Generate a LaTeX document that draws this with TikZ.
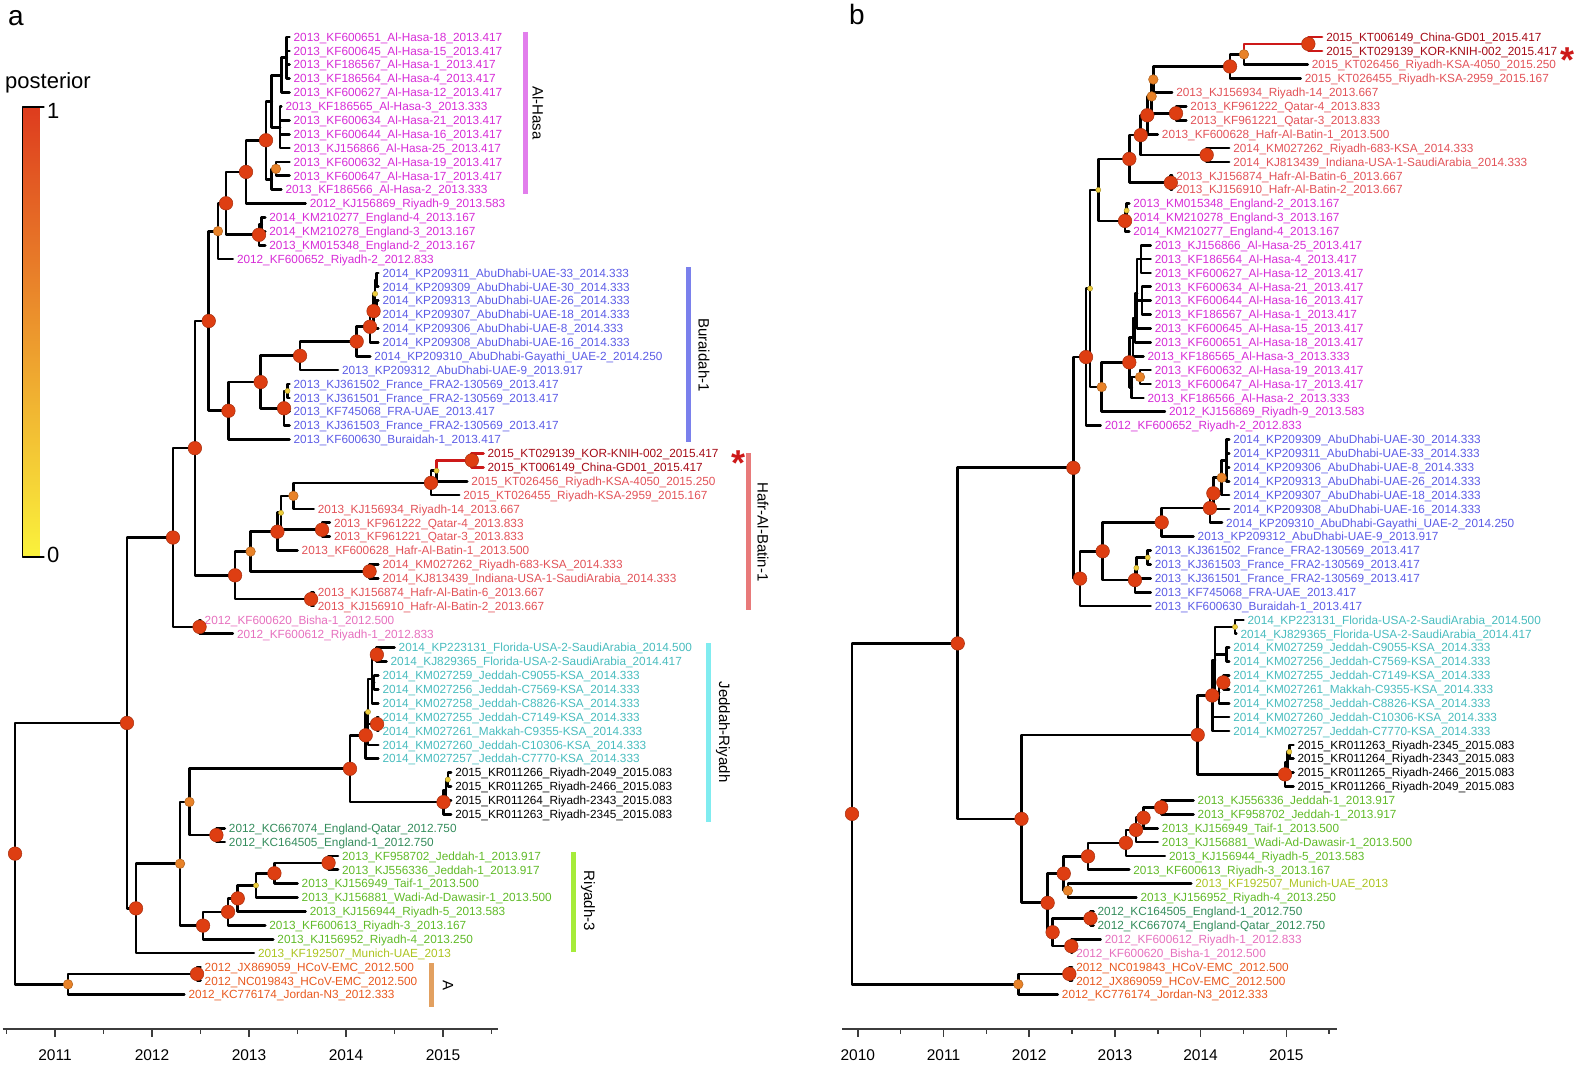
\documentclass[tikz,border=0pt]{standalone}
\usepackage{fontspec}
\setmainfont{Liberation Sans}
\definecolor{cmag}{RGB}{214,44,214}
\definecolor{cblue}{RGB}{92,92,230}
\definecolor{cdred}{RGB}{165,10,22}
\definecolor{csalm}{RGB}{226,82,88}
\definecolor{cpink}{RGB}{230,112,190}
\definecolor{cteal}{RGB}{72,188,190}
\definecolor{cdgrn}{RGB}{52,140,92}
\definecolor{cgrn}{RGB}{96,186,40}
\definecolor{cylg}{RGB}{172,196,32}
\definecolor{corg}{RGB}{232,88,30}
\definecolor{bhasa}{RGB}{226,126,236}
\definecolor{bbur}{RGB}{122,128,236}
\definecolor{bhafr}{RGB}{232,122,122}
\definecolor{bjed}{RGB}{128,236,240}
\definecolor{briy}{RGB}{166,236,58}
\definecolor{bA}{RGB}{226,160,96}
\definecolor{ppred}{RGB}{222,62,18}
\definecolor{pporg}{RGB}{232,130,40}
\definecolor{ppyel}{RGB}{238,206,60}
\definecolor{bred}{RGB}{205,25,25}
\definecolor{cbtop}{RGB}{222,60,30}
\definecolor{cbmid}{RGB}{232,140,40}
\definecolor{cbbot}{RGB}{250,242,60}
\definecolor{axgray}{RGB}{60,60,60}

\begin{document}
\begin{tikzpicture}[x=1pt,y=-1pt,line cap=round,line join=round,
  br/.style={line width=2.7pt,black},
  brred/.style={line width=2.7pt,color=bred},
  lab/.style={anchor=west,inner xsep=4pt,inner ysep=0pt,text height=8.45pt,text depth=0pt,font=\fontsize{11.8}{12}\selectfont},
  lmag/.style={lab,text=cmag},
  lblu/.style={lab,text=cblue},
  ldred/.style={lab,text=cdred},
  lsal/.style={lab,text=csalm},
  lpink/.style={lab,text=cpink},
  lteal/.style={lab,text=cteal},
  lblk/.style={lab,text=black},
  ldgr/.style={lab,text=cdgrn},
  lgrn/.style={lab,text=cgrn},
  lylg/.style={lab,text=cylg},
  lorg/.style={lab,text=corg},
  nred/.style={fill=ppred,draw=ppred!75!black,line width=0.5pt},
  norg/.style={fill=pporg,draw=pporg!75!black,line width=0.5pt},
  nyel/.style={fill=ppyel,draw=ppyel!70!black,line width=0.4pt},
  clade/.style={line width=5pt,line cap=butt},
  cladelab/.style={rotate=-90,font=\fontsize{15}{16}\selectfont},
  yrlab/.style={font=\fontsize{15.5}{16}\selectfont},
  axis/.style={line width=1.6pt,axgray,line cap=butt},
  plab/.style={font=\fontsize{28}{30}\selectfont},
  astk/.style={text=bred,font=\fontsize{36}{36}\selectfont\bfseries,inner sep=0pt}]
\useasboundingbox (0,0) rectangle (1575,1065);

% panel letters
\node[plab] (pa) at (16,18) {a};
\node[plab] (pb) at (857,14) {b};

% posterior scale
\node[font=\fontsize{22}{24}\selectfont] (post) at (48,83) {posterior};
\shade[top color=cbtop,middle color=cbmid,bottom color=cbbot] (22.7,107) rectangle (39.3,557);
\draw[line width=1.2pt] (44,107) -- (22.7,107) -- (22.7,557) -- (44,557);
\node[anchor=west,inner sep=0pt,font=\fontsize{22}{24}\selectfont] (pone) at (47,111) {1};
\node[anchor=west,inner sep=0pt,font=\fontsize{22}{24}\selectfont] (pzero) at (47,555) {0};

% ================= tree a =================
\begin{scope}[x=97pt,xshift=-1012pt,y=-13.88pt,yshift=-23.12pt]
\node[lmag] (a1) at (13.417,1) {2013\_KF600651\_Al-Hasa-18\_2013.417};
\node[lmag] (a2) at (13.417,2) {2013\_KF600645\_Al-Hasa-15\_2013.417};
\node[lmag] (a3) at (13.417,3) {2013\_KF186567\_Al-Hasa-1\_2013.417};
\node[lmag] (a4) at (13.417,4) {2013\_KF186564\_Al-Hasa-4\_2013.417};
\node[lmag] (a5) at (13.417,5) {2013\_KF600627\_Al-Hasa-12\_2013.417};
\node[lmag] (a6) at (13.333,6) {2013\_KF186565\_Al-Hasa-3\_2013.333};
\node[lmag] (a7) at (13.417,7) {2013\_KF600634\_Al-Hasa-21\_2013.417};
\node[lmag] (a8) at (13.417,8) {2013\_KF600644\_Al-Hasa-16\_2013.417};
\node[lmag] (a9) at (13.417,9) {2013\_KJ156866\_Al-Hasa-25\_2013.417};
\node[lmag] (a10) at (13.417,10) {2013\_KF600632\_Al-Hasa-19\_2013.417};
\node[lmag] (a11) at (13.417,11) {2013\_KF600647\_Al-Hasa-17\_2013.417};
\node[lmag] (a12) at (13.333,12) {2013\_KF186566\_Al-Hasa-2\_2013.333};
\node[lmag] (a13) at (13.583,13) {2012\_KJ156869\_Riyadh-9\_2013.583};
\node[lmag] (a14) at (13.167,14) {2014\_KM210277\_England-4\_2013.167};
\node[lmag] (a15) at (13.167,15) {2014\_KM210278\_England-3\_2013.167};
\node[lmag] (a16) at (13.167,16) {2013\_KM015348\_England-2\_2013.167};
\node[lmag] (a17) at (12.833,17) {2012\_KF600652\_Riyadh-2\_2012.833};
\node[lblu] (a18) at (14.333,18) {2014\_KP209311\_AbuDhabi-UAE-33\_2014.333};
\node[lblu] (a19) at (14.333,19) {2014\_KP209309\_AbuDhabi-UAE-30\_2014.333};
\node[lblu] (a20) at (14.333,20) {2014\_KP209313\_AbuDhabi-UAE-26\_2014.333};
\node[lblu] (a21) at (14.333,21) {2014\_KP209307\_AbuDhabi-UAE-18\_2014.333};
\node[lblu] (a22) at (14.333,22) {2014\_KP209306\_AbuDhabi-UAE-8\_2014.333};
\node[lblu] (a23) at (14.333,23) {2014\_KP209308\_AbuDhabi-UAE-16\_2014.333};
\node[lblu] (a24) at (14.25,24) {2014\_KP209310\_AbuDhabi-Gayathi\_UAE-2\_2014.250};
\node[lblu] (a25) at (13.917,25) {2013\_KP209312\_AbuDhabi-UAE-9\_2013.917};
\node[lblu] (a26) at (13.417,26) {2013\_KJ361502\_France\_FRA2-130569\_2013.417};
\node[lblu] (a27) at (13.417,27) {2013\_KJ361501\_France\_FRA2-130569\_2013.417};
\node[lblu] (a28) at (13.417,28) {2013\_KF745068\_FRA-UAE\_2013.417};
\node[lblu] (a29) at (13.417,29) {2013\_KJ361503\_France\_FRA2-130569\_2013.417};
\node[lblu] (a30) at (13.417,30) {2013\_KF600630\_Buraidah-1\_2013.417};
\node[ldred] (a31) at (15.417,31) {2015\_KT029139\_KOR-KNIH-002\_2015.417};
\node[ldred] (a32) at (15.417,32) {2015\_KT006149\_China-GD01\_2015.417};
\node[lsal] (a33) at (15.25,33) {2015\_KT026456\_Riyadh-KSA-4050\_2015.250};
\node[lsal] (a34) at (15.167,34) {2015\_KT026455\_Riyadh-KSA-2959\_2015.167};
\node[lsal] (a35) at (13.667,35) {2013\_KJ156934\_Riyadh-14\_2013.667};
\node[lsal] (a36) at (13.833,36) {2013\_KF961222\_Qatar-4\_2013.833};
\node[lsal] (a37) at (13.833,37) {2013\_KF961221\_Qatar-3\_2013.833};
\node[lsal] (a38) at (13.5,38) {2013\_KF600628\_Hafr-Al-Batin-1\_2013.500};
\node[lsal] (a39) at (14.333,39) {2014\_KM027262\_Riyadh-683-KSA\_2014.333};
\node[lsal] (a40) at (14.333,40) {2014\_KJ813439\_Indiana-USA-1-SaudiArabia\_2014.333};
\node[lsal] (a41) at (13.667,41) {2013\_KJ156874\_Hafr-Al-Batin-6\_2013.667};
\node[lsal] (a42) at (13.667,42) {2013\_KJ156910\_Hafr-Al-Batin-2\_2013.667};
\node[lpink] (a43) at (12.5,43) {2012\_KF600620\_Bisha-1\_2012.500};
\node[lpink] (a44) at (12.833,44) {2012\_KF600612\_Riyadh-1\_2012.833};
\node[lteal] (a45) at (14.5,45) {2014\_KP223131\_Florida-USA-2-SaudiArabia\_2014.500};
\node[lteal] (a46) at (14.417,46) {2014\_KJ829365\_Florida-USA-2-SaudiArabia\_2014.417};
\node[lteal] (a47) at (14.333,47) {2014\_KM027259\_Jeddah-C9055-KSA\_2014.333};
\node[lteal] (a48) at (14.333,48) {2014\_KM027256\_Jeddah-C7569-KSA\_2014.333};
\node[lteal] (a49) at (14.333,49) {2014\_KM027258\_Jeddah-C8826-KSA\_2014.333};
\node[lteal] (a50) at (14.333,50) {2014\_KM027255\_Jeddah-C7149-KSA\_2014.333};
\node[lteal] (a51) at (14.333,51) {2014\_KM027261\_Makkah-C9355-KSA\_2014.333};
\node[lteal] (a52) at (14.333,52) {2014\_KM027260\_Jeddah-C10306-KSA\_2014.333};
\node[lteal] (a53) at (14.333,53) {2014\_KM027257\_Jeddah-C7770-KSA\_2014.333};
\node[lblk] (a54) at (15.083,54) {2015\_KR011266\_Riyadh-2049\_2015.083};
\node[lblk] (a55) at (15.083,55) {2015\_KR011265\_Riyadh-2466\_2015.083};
\node[lblk] (a56) at (15.083,56) {2015\_KR011264\_Riyadh-2343\_2015.083};
\node[lblk] (a57) at (15.083,57) {2015\_KR011263\_Riyadh-2345\_2015.083};
\node[ldgr] (a58) at (12.75,58) {2012\_KC667074\_England-Qatar\_2012.750};
\node[ldgr] (a59) at (12.75,59) {2012\_KC164505\_England-1\_2012.750};
\node[lgrn] (a60) at (13.917,60) {2013\_KF958702\_Jeddah-1\_2013.917};
\node[lgrn] (a61) at (13.917,61) {2013\_KJ556336\_Jeddah-1\_2013.917};
\node[lgrn] (a62) at (13.5,62) {2013\_KJ156949\_Taif-1\_2013.500};
\node[lgrn] (a63) at (13.5,63) {2013\_KJ156881\_Wadi-Ad-Dawasir-1\_2013.500};
\node[lgrn] (a64) at (13.583,64) {2013\_KJ156944\_Riyadh-5\_2013.583};
\node[lgrn] (a65) at (13.167,65) {2013\_KF600613\_Riyadh-3\_2013.167};
\node[lgrn] (a66) at (13.25,66) {2013\_KJ156952\_Riyadh-4\_2013.250};
\node[lylg] (a67) at (13.05,67) {2013\_KF192507\_Munich-UAE\_2013};
\node[lorg] (a68) at (12.5,68) {2012\_JX869059\_HCoV-EMC\_2012.500};
\node[lorg] (a69) at (12.5,69) {2012\_NC019843\_HCoV-EMC\_2012.500};
\node[lorg] (a70) at (12.333,70) {2012\_KC776174\_Jordan-N3\_2012.333};
% internal nodes (x = year-2000, y = leaf row)
\coordinate (aR) at (10.588,59.835);
\coordinate (aL1) at (11.134,69.25);
\coordinate (aL2) at (12.464,68.5);
\coordinate (aU1) at (11.742,50.42);
\coordinate (aU2) at (12.216,37.06);
\coordinate (aH0) at (12.442,30.62);
\coordinate (aQ) at (12.585,21.46);
\coordinate (aA4) at (12.680,14.99);
\coordinate (aA3) at (12.763,12.98);
\coordinate (aA2) at (12.969,10.72);
\coordinate (aA1) at (13.175,8.44);
\coordinate (aN1) at (13.234,5.625);
\coordinate (aG15) at (13.337,3.75);
\coordinate (aG14) at (13.389,2.5);
\coordinate (ah3) at (13.32,7.5);
\coordinate (aN2) at (13.234,11.25);
\coordinate (aA6) at (13.278,10.5);
\coordinate (aA5) at (13.103,15.25);
\coordinate (aA5b) at (13.131,14.5);
\coordinate (aB1) at (12.788,27.93);
\coordinate (aB2) at (13.120,25.86);
\coordinate (aB3) at (13.526,23.97);
\coordinate (aB5) at (14.110,22.94);
\coordinate (aB6) at (14.247,21.875);
\coordinate (aB7) at (14.284,20.75);
\coordinate (aB8) at (14.30,19.5);
\coordinate (aB9) at (14.315,18.5);
\coordinate (aB9b) at (14.315,20.5);
\coordinate (aB4) at (13.361,27.75);
\coordinate (aB10) at (13.397,26.5);
\coordinate (aH1) at (12.856,39.785);
\coordinate (aH2) at (13.016,38.07);
\coordinate (aH3) at (13.293,36.64);
\coordinate (aH4) at (13.330,35.28);
\coordinate (aH5) at (13.458,34.06);
\coordinate (aH6) at (14.876,33.125);
\coordinate (aH7) at (14.933,32.25);
\coordinate (aH8) at (15.297,31.5);
\coordinate (aH9) at (13.753,36.5);
\coordinate (aH10) at (14.243,39.5);
\coordinate (aH11) at (13.64,41.5);
\coordinate (aBS) at (12.49,43.5);
\coordinate (aG1) at (11.835,63.78);
\coordinate (aG2) at (12.289,60.56);
\coordinate (aG3) at (12.386,56.11);
\coordinate (aJR) at (14.041,53.72);
\coordinate (aJ3) at (14.203,51.31);
\coordinate (aJ4) at (14.227,49.625);
\coordinate (aJ6) at (14.268,47.25);
\coordinate (aJ1) at (14.318,45.5);
\coordinate (aJ7) at (14.29,47.5);
\coordinate (aJ2) at (14.32,50.5);
\coordinate (aK1) at (15.005,56.125);
\coordinate (aK3) at (15.03,55.25);
\coordinate (aK2) at (15.05,54.5);
\coordinate (aEQ) at (12.664,58.5);
\coordinate (aR3) at (12.526,65.02);
\coordinate (aS5) at (12.784,64.03);
\coordinate (aS4) at (12.884,63.06);
\coordinate (aS3) at (13.072,62.125);
\coordinate (aS2) at (13.262,61.25);
\coordinate (aS1) at (13.82,60.5);
% branches
\foreach \pn/\cn in {aR/aU1,aR/aL1,aL1/aL2,aL1/a70,aL2/a68,aL2/a69,
  aU1/aU2,aU1/aG1,aU2/aH0,aU2/aBS,aBS/a43,aBS/a44,aH0/aQ,aH0/aH1,
  aQ/aA4,aQ/aB1,aA4/aA3,aA4/a17,aA3/aA2,aA3/aA5,aA5/aA5b,aA5/a16,aA5b/a14,aA5b/a15,
  aA2/aA1,aA2/a13,aA1/aN1,aA1/aN2,aN1/aG15,aN1/ah3,aG15/aG14,aG15/a5,
  aG14/a1,aG14/a2,aG14/a3,aG14/a4,ah3/a6,ah3/a7,ah3/a8,ah3/a9,
  aN2/aA6,aN2/a12,aA6/a10,aA6/a11,
  aB1/aB2,aB1/a30,aB2/aB3,aB2/aB4,aB3/aB5,aB3/a25,aB5/aB6,aB5/a24,aB6/aB7,aB6/a23,
  aB7/aB8,aB7/a22,aB8/aB9,aB8/aB9b,aB9/a18,aB9/a19,aB9b/a20,aB9b/a21,
  aB4/aB10,aB4/a28,aB4/a29,aB10/a26,aB10/a27,
  aH1/aH2,aH1/aH11,aH11/a41,aH11/a42,aH2/aH3,aH2/aH10,aH10/a39,aH10/a40,
  aH3/aH4,aH3/a38,aH4/aH5,aH4/aH9,aH9/a36,aH9/a37,aH5/aH6,aH5/a35,
  aH6/aH7,aH6/a34,aH7/a33,
  aG1/aG2,aG1/a67,aG2/aG3,aG2/aR3,aG3/aJR,aG3/aEQ,aEQ/a58,aEQ/a59,
  aJR/aJ3,aJR/aK1,aJ3/aJ4,aJ3/a53,aJ4/aJ6,aJ4/aJ2,aJ4/a52,
  aJ6/aJ1,aJ6/aJ7,aJ6/a49,aJ1/a45,aJ1/a46,aJ7/a47,aJ7/a48,aJ2/a50,aJ2/a51,
  aK1/aK3,aK1/a57,aK3/aK2,aK3/a56,aK2/a54,aK2/a55,
  aR3/aS5,aR3/a66,aS5/aS4,aS5/a65,aS4/aS3,aS4/a64,aS3/aS2,aS3/a63,
  aS2/aS1,aS2/a62,aS1/a60,aS1/a61}
  \draw[br] (\pn) |- (\cn);
\foreach \pn/\cn in {aH7/aH8,aH8/a31,aH8/a32}
  \draw[brred] (\pn) |- (\cn);
% posterior circles
\foreach \n in {aR,aL2,aU1,aU2,aH0,aQ,aA3,aA2,aA1,aA5,aB1,aB2,aB3,aB5,aB6,aB7,aB4,
  aH1,aH3,aH6,aH8,aH9,aH10,aH11,aBS,aG1,aJR,aJ1,aJ2,aJ3,aK1,aEQ,aS1,aS2,aS4,aS5,aR3}
  \draw[nred] (\n) circle (6.8pt);
\foreach \n in {aL1,aA4,aA6,aH2,aH5,aG2,aG3}
  \draw[norg] (\n) circle (4.8pt);
\foreach \n in {aH4,aH7,aJ4,aK2,aS3,aB10,aB8}
  \draw[nyel] (\n) circle (2.6pt);
\end{scope}

% axis a
\begin{scope}[x=97pt,xshift=-1012pt]
\draw[axis] (10.46,1029) -- (15.57,1029);
\foreach \t in {11,...,15}
  \draw[axis] (\t,1029) -- (\t,1037);
\foreach \t in {10.5,11.5,...,15.5}
  \draw[axis] (\t,1029) -- (\t,1034);
\foreach \t in {11,...,15}
  \node[yrlab] (ya\t) at (\t,1055) {20\t};
\end{scope}

% clade bars a
\draw[clade,bhasa] (525,32) -- (525,194);
\node[cladelab] (lhasa) at (538,113) {Al-Hasa};
\draw[clade,bbur] (688,267) -- (688,442);
\node[cladelab] (lbur) at (704,355) {Buraidah-1};
\draw[clade,bhafr] (748,453) -- (748,610);
\node[cladelab] (lhafr) at (763,532) {Hafr-Al-Batin-1};
\draw[clade,bjed] (708,643) -- (708,822);
\node[cladelab] (ljed) at (723,732) {Jeddah-Riyadh};
\draw[clade,briy] (573,852) -- (573,952);
\node[cladelab] (lriy) at (588,901) {Riyadh-3};
\draw[clade,bA] (431,963) -- (431,1007);
\node[cladelab] (lA) at (448,985) {A};
\node[astk] (asta) at (738,463) {*};

% ================= tree b =================
\begin{scope}[x=85.7pt,xshift=0.8pt,y=-13.88pt,yshift=-23.12pt]
\node[ldred] (b1) at (15.417,1) {2015\_KT006149\_China-GD01\_2015.417};
\node[ldred] (b2) at (15.417,2) {2015\_KT029139\_KOR-KNIH-002\_2015.417};
\node[lsal] (b3) at (15.25,3) {2015\_KT026456\_Riyadh-KSA-4050\_2015.250};
\node[lsal] (b4) at (15.167,4) {2015\_KT026455\_Riyadh-KSA-2959\_2015.167};
\node[lsal] (b5) at (13.667,5) {2013\_KJ156934\_Riyadh-14\_2013.667};
\node[lsal] (b6) at (13.833,6) {2013\_KF961222\_Qatar-4\_2013.833};
\node[lsal] (b7) at (13.833,7) {2013\_KF961221\_Qatar-3\_2013.833};
\node[lsal] (b8) at (13.5,8) {2013\_KF600628\_Hafr-Al-Batin-1\_2013.500};
\node[lsal] (b9) at (14.333,9) {2014\_KM027262\_Riyadh-683-KSA\_2014.333};
\node[lsal] (b10) at (14.333,10) {2014\_KJ813439\_Indiana-USA-1-SaudiArabia\_2014.333};
\node[lsal] (b11) at (13.667,11) {2013\_KJ156874\_Hafr-Al-Batin-6\_2013.667};
\node[lsal] (b12) at (13.667,12) {2013\_KJ156910\_Hafr-Al-Batin-2\_2013.667};
\node[lmag] (b13) at (13.167,13) {2013\_KM015348\_England-2\_2013.167};
\node[lmag] (b14) at (13.167,14) {2014\_KM210278\_England-3\_2013.167};
\node[lmag] (b15) at (13.167,15) {2014\_KM210277\_England-4\_2013.167};
\node[lmag] (b16) at (13.417,16) {2013\_KJ156866\_Al-Hasa-25\_2013.417};
\node[lmag] (b17) at (13.417,17) {2013\_KF186564\_Al-Hasa-4\_2013.417};
\node[lmag] (b18) at (13.417,18) {2013\_KF600627\_Al-Hasa-12\_2013.417};
\node[lmag] (b19) at (13.417,19) {2013\_KF600634\_Al-Hasa-21\_2013.417};
\node[lmag] (b20) at (13.417,20) {2013\_KF600644\_Al-Hasa-16\_2013.417};
\node[lmag] (b21) at (13.417,21) {2013\_KF186567\_Al-Hasa-1\_2013.417};
\node[lmag] (b22) at (13.417,22) {2013\_KF600645\_Al-Hasa-15\_2013.417};
\node[lmag] (b23) at (13.417,23) {2013\_KF600651\_Al-Hasa-18\_2013.417};
\node[lmag] (b24) at (13.333,24) {2013\_KF186565\_Al-Hasa-3\_2013.333};
\node[lmag] (b25) at (13.417,25) {2013\_KF600632\_Al-Hasa-19\_2013.417};
\node[lmag] (b26) at (13.417,26) {2013\_KF600647\_Al-Hasa-17\_2013.417};
\node[lmag] (b27) at (13.333,27) {2013\_KF186566\_Al-Hasa-2\_2013.333};
\node[lmag] (b28) at (13.583,28) {2012\_KJ156869\_Riyadh-9\_2013.583};
\node[lmag] (b29) at (12.833,29) {2012\_KF600652\_Riyadh-2\_2012.833};
\node[lblu] (b30) at (14.333,30) {2014\_KP209309\_AbuDhabi-UAE-30\_2014.333};
\node[lblu] (b31) at (14.333,31) {2014\_KP209311\_AbuDhabi-UAE-33\_2014.333};
\node[lblu] (b32) at (14.333,32) {2014\_KP209306\_AbuDhabi-UAE-8\_2014.333};
\node[lblu] (b33) at (14.333,33) {2014\_KP209313\_AbuDhabi-UAE-26\_2014.333};
\node[lblu] (b34) at (14.333,34) {2014\_KP209307\_AbuDhabi-UAE-18\_2014.333};
\node[lblu] (b35) at (14.333,35) {2014\_KP209308\_AbuDhabi-UAE-16\_2014.333};
\node[lblu] (b36) at (14.25,36) {2014\_KP209310\_AbuDhabi-Gayathi\_UAE-2\_2014.250};
\node[lblu] (b37) at (13.917,37) {2013\_KP209312\_AbuDhabi-UAE-9\_2013.917};
\node[lblu] (b38) at (13.417,38) {2013\_KJ361502\_France\_FRA2-130569\_2013.417};
\node[lblu] (b39) at (13.417,39) {2013\_KJ361503\_France\_FRA2-130569\_2013.417};
\node[lblu] (b40) at (13.417,40) {2013\_KJ361501\_France\_FRA2-130569\_2013.417};
\node[lblu] (b41) at (13.417,41) {2013\_KF745068\_FRA-UAE\_2013.417};
\node[lblu] (b42) at (13.417,42) {2013\_KF600630\_Buraidah-1\_2013.417};
\node[lteal] (b43) at (14.5,43) {2014\_KP223131\_Florida-USA-2-SaudiArabia\_2014.500};
\node[lteal] (b44) at (14.417,44) {2014\_KJ829365\_Florida-USA-2-SaudiArabia\_2014.417};
\node[lteal] (b45) at (14.333,45) {2014\_KM027259\_Jeddah-C9055-KSA\_2014.333};
\node[lteal] (b46) at (14.333,46) {2014\_KM027256\_Jeddah-C7569-KSA\_2014.333};
\node[lteal] (b47) at (14.333,47) {2014\_KM027255\_Jeddah-C7149-KSA\_2014.333};
\node[lteal] (b48) at (14.333,48) {2014\_KM027261\_Makkah-C9355-KSA\_2014.333};
\node[lteal] (b49) at (14.333,49) {2014\_KM027258\_Jeddah-C8826-KSA\_2014.333};
\node[lteal] (b50) at (14.333,50) {2014\_KM027260\_Jeddah-C10306-KSA\_2014.333};
\node[lteal] (b51) at (14.333,51) {2014\_KM027257\_Jeddah-C7770-KSA\_2014.333};
\node[lblk] (b52) at (15.083,52) {2015\_KR011263\_Riyadh-2345\_2015.083};
\node[lblk] (b53) at (15.083,53) {2015\_KR011264\_Riyadh-2343\_2015.083};
\node[lblk] (b54) at (15.083,54) {2015\_KR011265\_Riyadh-2466\_2015.083};
\node[lblk] (b55) at (15.083,55) {2015\_KR011266\_Riyadh-2049\_2015.083};
\node[lgrn] (b56) at (13.917,56) {2013\_KJ556336\_Jeddah-1\_2013.917};
\node[lgrn] (b57) at (13.917,57) {2013\_KF958702\_Jeddah-1\_2013.917};
\node[lgrn] (b58) at (13.5,58) {2013\_KJ156949\_Taif-1\_2013.500};
\node[lgrn] (b59) at (13.5,59) {2013\_KJ156881\_Wadi-Ad-Dawasir-1\_2013.500};
\node[lgrn] (b60) at (13.583,60) {2013\_KJ156944\_Riyadh-5\_2013.583};
\node[lgrn] (b61) at (13.167,61) {2013\_KF600613\_Riyadh-3\_2013.167};
\node[lylg] (b62) at (13.89,62) {2013\_KF192507\_Munich-UAE\_2013};
\node[lgrn] (b63) at (13.25,63) {2013\_KJ156952\_Riyadh-4\_2013.250};
\node[ldgr] (b64) at (12.75,64) {2012\_KC164505\_England-1\_2012.750};
\node[ldgr] (b65) at (12.75,65) {2012\_KC667074\_England-Qatar\_2012.750};
\node[lpink] (b66) at (12.833,66) {2012\_KF600612\_Riyadh-1\_2012.833};
\node[lpink] (b67) at (12.5,67) {2012\_KF600620\_Bisha-1\_2012.500};
\node[lorg] (b68) at (12.5,68) {2012\_NC019843\_HCoV-EMC\_2012.500};
\node[lorg] (b69) at (12.5,69) {2012\_JX869059\_HCoV-EMC\_2012.500};
\node[lorg] (b70) at (12.333,70) {2012\_KC776174\_Jordan-N3\_2012.333};
% internal nodes
\coordinate (bPR) at (9.932,56.97);
\coordinate (bPL) at (11.873,69.25);
\coordinate (bPL2) at (12.468,68.5);
\coordinate (bPB1) at (11.166,44.69);
\coordinate (bPB2) at (12.515,32.04);
\coordinate (bPB3) at (12.663,24.06);
\coordinate (bPY) at (12.71,19.12);
\coordinate (bPX) at (12.806,12.02);
\coordinate (bP1) at (13.168,9.785);
\coordinate (bP2) at (13.301,8.07);
\coordinate (bP3) at (13.378,6.64);
\coordinate (bP4) at (13.429,5.28);
\coordinate (bP5) at (13.448,4.06);
\coordinate (bP6) at (14.343,3.125);
\coordinate (bP7) at (14.506,2.25);
\coordinate (bP8) at (15.257,1.5);
\coordinate (bPq) at (13.713,6.5);
\coordinate (bPi) at (14.071,9.5);
\coordinate (bPh) at (13.652,11.5);
\coordinate (bEng) at (13.118,14.25);
\coordinate (bE2) at (13.137,13.5);
\coordinate (bPB4) at (12.846,26.22);
\coordinate (bAH) at (13.168,24.44);
\coordinate (bAHa) at (13.211,22.625);
\coordinate (bAHc) at (13.234,21.25);
\coordinate (bAHd) at (13.258,19.5);
\coordinate (bAHe) at (13.305,17);
\coordinate (bAHf) at (13.316,20);
\coordinate (bAHb) at (13.196,26.25);
\coordinate (bAH2) at (13.293,25.5);
\coordinate (bPB5) at (12.593,40.02);
\coordinate (bPB6) at (12.857,38.05);
\coordinate (bPB7) at (13.546,35.97);
\coordinate (bAD1) at (14.109,34.94);
\coordinate (bAD2) at (14.149,33.875);
\coordinate (bAD3) at (14.246,32.75);
\coordinate (bAD4) at (14.30,31.5);
\coordinate (bFr) at (13.234,40.125);
\coordinate (bFr2) at (13.25,39.25);
\coordinate (bFr3) at (13.383,38.5);
\coordinate (bPB9) at (11.91,57.33);
\coordinate (bJRb) at (13.966,51.28);
\coordinate (bJ3b) at (14.136,48.44);
\coordinate (bJ5b) at (14.168,45.875);
\coordinate (bFLb) at (14.401,43.5);
\coordinate (bJ7b) at (14.305,45.5);
\coordinate (bJ8b) at (14.215,48.25);
\coordinate (bJ2b) at (14.265,47.5);
\coordinate (bKb) at (14.985,54.125);
\coordinate (bKb3) at (15.01,53.25);
\coordinate (bKb2) at (15.035,52.5);
\coordinate (bQ2) at (12.215,63.38);
\coordinate (bQ3) at (12.403,61.27);
\coordinate (bQ4) at (12.273,65.5);
\coordinate (bQ5) at (12.686,60.03);
\coordinate (bQ6) at (12.451,62.5);
\coordinate (bQ7) at (13.128,59.06);
\coordinate (bQ8) at (13.246,58.125);
\coordinate (bQ9) at (13.334,57.25);
\coordinate (bQ10) at (13.54,56.5);
\coordinate (bEQb) at (12.715,64.5);
\coordinate (bBSb) at (12.491,66.5);
% branches
\foreach \pn/\cn in {bPR/bPB1,bPR/bPL,bPL/bPL2,bPL/b70,bPL2/b68,bPL2/b69,
  bPB1/bPB2,bPB1/bPB9,bPB2/bPB3,bPB2/bPB5,bPB3/bPY,bPB3/b29,bPY/bPX,bPY/bPB4,
  bPX/bP1,bPX/bEng,bEng/bE2,bEng/b15,bE2/b13,bE2/b14,
  bP1/bP2,bP1/bPh,bPh/b11,bPh/b12,bP2/bP3,bP2/bPi,bPi/b9,bPi/b10,
  bP3/bP4,bP3/b8,bP4/bP5,bP4/bPq,bPq/b6,bPq/b7,bP5/bP6,bP5/b5,
  bP6/bP7,bP6/b4,bP7/b3,
  bPB4/bAH,bPB4/b28,bAH/bAHa,bAH/bAHb,bAHa/bAHc,bAHa/b24,bAHc/bAHd,bAHc/b23,
  bAHd/bAHe,bAHd/bAHf,bAHd/b22,bAHe/b16,bAHe/b17,bAHe/b18,bAHf/b19,bAHf/b20,bAHf/b21,
  bAHb/bAH2,bAHb/b27,bAH2/b25,bAH2/b26,
  bPB5/bPB6,bPB5/b42,bPB6/bPB7,bPB6/bFr,bPB7/bAD1,bPB7/b37,
  bAD1/bAD2,bAD1/b36,bAD2/bAD3,bAD2/b35,bAD3/bAD4,bAD3/b34,
  bAD4/b30,bAD4/b31,bAD4/b32,bAD4/b33,
  bFr/bFr2,bFr/b41,bFr2/bFr3,bFr2/b40,bFr3/b38,bFr3/b39,
  bPB9/bJRb,bPB9/bQ2,bJRb/bJ3b,bJRb/bKb,
  bJ3b/bJ5b,bJ3b/b50,bJ3b/b51,bJ5b/bFLb,bJ5b/bJ7b,bJ5b/bJ8b,
  bFLb/b43,bFLb/b44,bJ7b/b45,bJ7b/b46,bJ8b/bJ2b,bJ8b/b49,bJ2b/b47,bJ2b/b48,
  bKb/bKb3,bKb/b55,bKb3/bKb2,bKb3/b54,bKb2/b52,bKb2/b53,
  bQ2/bQ3,bQ2/bQ4,bQ3/bQ5,bQ3/bQ6,bQ6/b62,bQ6/b63,bQ5/bQ7,bQ5/b61,
  bQ7/bQ8,bQ7/b60,bQ8/bQ9,bQ8/b59,bQ9/bQ10,bQ9/b58,bQ10/b56,bQ10/b57,
  bQ4/bEQb,bQ4/bBSb,bEQb/b64,bEQb/b65,bBSb/b66,bBSb/b67}
  \draw[br] (\pn) |- (\cn);
\foreach \pn/\cn in {bP7/bP8,bP8/b1,bP8/b2}
  \draw[brred] (\pn) |- (\cn);
% posterior circles
\foreach \n in {bPR,bPB1,bPB2,bPB3,bP1,bP2,bP3,bP6,bP8,bPq,bPi,bPh,bEng,bAH,bPB5,bPB6,bPB7,
  bAD1,bAD2,bFr,bPB9,bJRb,bJ3b,bJ2b,bKb,bQ2,bQ3,bQ4,bEQb,bBSb,bQ5,bQ7,bQ8,bQ9,bQ10,bPL2}
  \draw[nred] (\n) circle (6.8pt);
\foreach \n in {bPB4,bP4,bP5,bP7,bAH2,bAD3,bQ6,bPL}
  \draw[norg] (\n) circle (4.8pt);
\foreach \n in {bPY,bPX,bE2,bFr2,bFr3,bFLb,bKb2}
  \draw[nyel] (\n) circle (2.6pt);
\end{scope}

% axis b
\begin{scope}[x=85.7pt,xshift=0.8pt]
\draw[axis] (9.82,1029) -- (15.59,1029);
\foreach \t in {10,...,15}
  \draw[axis] (\t,1029) -- (\t,1037);
\foreach \t in {10.5,11.5,...,15.5}
  \draw[axis] (\t,1029) -- (\t,1034);
\foreach \t in {10,...,15}
  \node[yrlab] (yb\t) at (\t,1055) {20\t};
\end{scope}
\node[astk] (astb) at (1567,60) {*};
\end{tikzpicture}
\end{document}
